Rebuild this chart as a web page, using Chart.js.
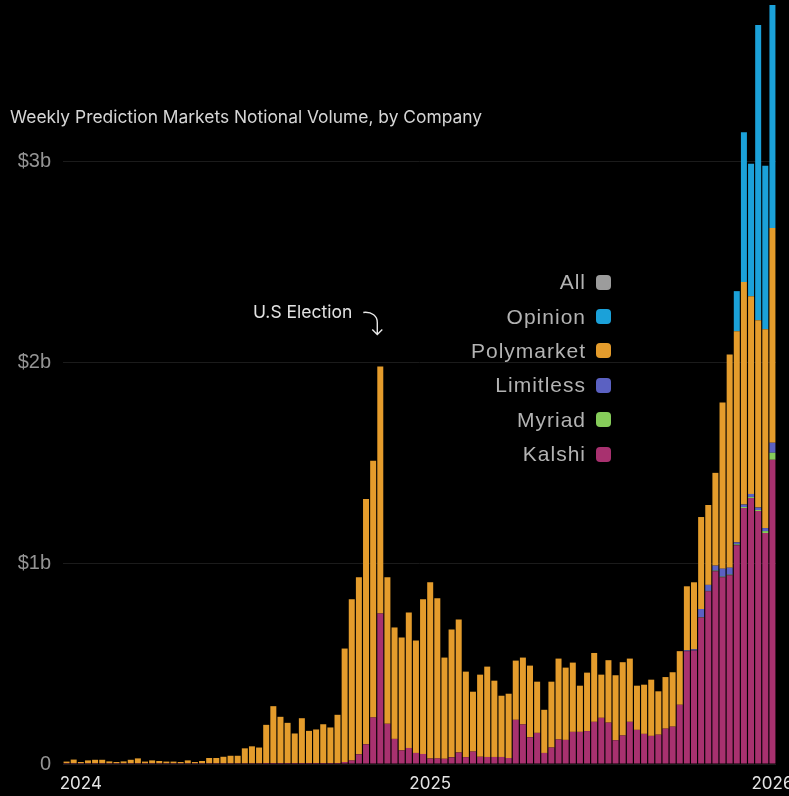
<!DOCTYPE html>
<html>
<head>
<meta charset="utf-8">
<script src="https://cdn.jsdelivr.net/npm/chart.js@4.4.0/dist/chart.umd.min.js"></script>
<style>
  html, body { margin: 0; padding: 0; background: #000; overflow: hidden; }
  #wrap { position: relative; width: 789px; height: 796px; }
  #title {
    position: absolute; left: 10px; top: 106px;
    font: 17.4px Inter, sans-serif; color: #d6d6d6; white-space: nowrap;
  }
  #legend { position: absolute; right: 178px; top: 265px; }
  .row { display: flex; justify-content: flex-end; align-items: center; height: 34.4px; }
  .row span { font: 21px "Liberation Sans", Arial, sans-serif; color: #b3b3b3; letter-spacing: 1px; }
  .row i { display: inline-block; width: 15px; height: 15px; border-radius: 4px; margin-left: 10px; }
</style>
</head>
<body>
<div id="wrap">
  <canvas id="chart" width="789" height="796"></canvas>
  <div id="title">Weekly Prediction Markets Notional Volume, by Company</div>
  <div id="legend"></div>
</div>
<script>
// weekly notional volume, $ billions
const firstWeek = "2024-01-08";
const weekCount = 100;

const yearLabels = ["2024", "2025", "2026"];
const yearAt = [2, 51, 99];

const yTicks = [0, 1, 2, 3];
const yTickLabels = ["0", "$1b", "$2b", "$3b"];

const kalshi = [
  0.004, 0.004, 0.004, 0.004, 0.004, 0.004, 0.004, 0.004, 0.004, 0.004,
  0.004, 0.004, 0.004, 0.004, 0.004, 0.004, 0.004, 0.004, 0.004, 0.004,
  0.004, 0.004, 0.004, 0.004, 0.004, 0.004, 0.004, 0.004, 0.005, 0.005,
  0.005, 0.005, 0.005, 0.005, 0.005, 0.005, 0.005, 0.005, 0.005, 0.010,
  0.018, 0.048, 0.098, 0.232, 0.750, 0.200, 0.125, 0.068, 0.080, 0.055,
  0.050, 0.027, 0.028, 0.026, 0.033, 0.057, 0.034, 0.062, 0.036, 0.035,
  0.035, 0.035, 0.030, 0.220, 0.197, 0.133, 0.155, 0.055, 0.082, 0.122,
  0.120, 0.160, 0.160, 0.164, 0.210, 0.230, 0.206, 0.118, 0.142, 0.210,
  0.170, 0.150, 0.140, 0.146, 0.176, 0.186, 0.295, 0.562, 0.565, 0.730,
  0.860, 0.960, 0.930, 0.940, 1.090, 1.275, 1.325, 1.260, 1.150, 1.515
];

const myriad = [
  0, 0, 0, 0, 0, 0, 0, 0, 0, 0,
  0, 0, 0, 0, 0, 0, 0, 0, 0, 0,
  0, 0, 0, 0, 0, 0, 0, 0, 0, 0,
  0, 0, 0, 0, 0, 0, 0, 0, 0, 0,
  0, 0, 0, 0, 0, 0, 0, 0, 0, 0,
  0, 0, 0, 0, 0, 0, 0, 0, 0, 0,
  0, 0, 0, 0, 0, 0, 0, 0, 0, 0,
  0, 0, 0, 0, 0, 0, 0, 0, 0, 0,
  0, 0, 0, 0, 0, 0, 0, 0, 0, 0.002,
  0.002, 0.003, 0.003, 0.003, 0.004, 0.005, 0.005, 0.005, 0.010, 0.035
];

const limitless = [
  0, 0, 0, 0, 0, 0, 0, 0, 0, 0,
  0, 0, 0, 0, 0, 0, 0, 0, 0, 0,
  0, 0, 0, 0, 0, 0, 0, 0, 0, 0,
  0, 0, 0, 0, 0, 0, 0, 0, 0, 0,
  0, 0, 0, 0, 0, 0, 0, 0, 0, 0,
  0, 0, 0, 0, 0, 0, 0, 0, 0, 0,
  0, 0, 0, 0, 0, 0, 0, 0, 0, 0,
  0, 0, 0, 0, 0, 0, 0, 0, 0, 0,
  0, 0, 0, 0, 0, 0, 0, 0.004, 0.006, 0.040,
  0.030, 0.025, 0.040, 0.035, 0.010, 0.012, 0.015, 0.012, 0.015, 0.050
];

const polymarket = [
  0.008, 0.018, 0.006, 0.014, 0.017, 0.017, 0.009, 0.006, 0.009, 0.017,
  0.024, 0.008, 0.014, 0.011, 0.008, 0.008, 0.006, 0.014, 0.006, 0.011,
  0.026, 0.026, 0.032, 0.037, 0.037, 0.074, 0.084, 0.078, 0.190, 0.283,
  0.230, 0.200, 0.147, 0.223, 0.160, 0.167, 0.193, 0.177, 0.240, 0.565,
  0.802, 0.882, 1.222, 1.278, 1.230, 0.730, 0.555, 0.562, 0.675, 0.560,
  0.770, 0.878, 0.797, 0.504, 0.637, 0.663, 0.426, 0.298, 0.409, 0.450,
  0.380, 0.305, 0.320, 0.295, 0.333, 0.357, 0.255, 0.215, 0.328, 0.403,
  0.360, 0.345, 0.230, 0.291, 0.343, 0.215, 0.311, 0.324, 0.365, 0.315,
  0.220, 0.245, 0.280, 0.216, 0.257, 0.271, 0.267, 0.319, 0.334, 0.458,
  0.398, 0.462, 0.827, 1.062, 1.051, 1.108, 0.985, 0.933, 0.990, 1.070
];

const opinion = [
  0, 0, 0, 0, 0, 0, 0, 0, 0, 0,
  0, 0, 0, 0, 0, 0, 0, 0, 0, 0,
  0, 0, 0, 0, 0, 0, 0, 0, 0, 0,
  0, 0, 0, 0, 0, 0, 0, 0, 0, 0,
  0, 0, 0, 0, 0, 0, 0, 0, 0, 0,
  0, 0, 0, 0, 0, 0, 0, 0, 0, 0,
  0, 0, 0, 0, 0, 0, 0, 0, 0, 0,
  0, 0, 0, 0, 0, 0, 0, 0, 0, 0,
  0, 0, 0, 0, 0, 0, 0, 0, 0, 0,
  0, 0, 0, 0, 0.200, 0.746, 0.660, 1.470, 0.815, 1.110
];

const legendNames = ["All", "Opinion", "Polymarket", "Limitless", "Myriad", "Kalshi"];
const legendColors = ["#9c9c9c", "#1ba1d9", "#e49c2c", "#5b61c2", "#86cc5a", "#a8316f"];

const electionWeek = 44;
const electionNote = "U.S Election";

// week labels
const weeks = [];
const d0 = new Date(firstWeek + "T00:00:00Z");
for (let i = 0; i < weekCount; i++) {
  const d = new Date(d0.getTime() + i * 7 * 86400000);
  weeks.push(d.toISOString().slice(0, 10));
}

function colorOf(name) {
  return legendColors[legendNames.indexOf(name)];
}

// legend on the right
const legendEl = document.getElementById("legend");
legendNames.forEach((n, k) => {
  const row = document.createElement("div");
  row.className = "row";
  row.innerHTML = '<span>' + n + '</span><i style="background:' + legendColors[k] + '"></i>';
  legendEl.appendChild(row);
});

const electionArrow = {
  id: "electionArrow",
  afterDatasetsDraw(chart) {
    const ctx = chart.ctx;
    const x = chart.scales.x.getPixelForValue(electionWeek);
    let total = 0;
    chart.data.datasets.forEach(ds => total += ds.data[electionWeek]);
    const y = chart.scales.y.getPixelForValue(total);
    ctx.save();
    ctx.fillStyle = "#e2e2e2";
    ctx.font = "17.5px Inter, sans-serif";
    ctx.textAlign = "right";
    ctx.textBaseline = "middle";
    ctx.fillText(electionNote, x - 28, y - 54);
    ctx.strokeStyle = "#e8e8e8";
    ctx.lineWidth = 1.4;
    ctx.beginPath();
    ctx.moveTo(x - 17, y - 54);
    ctx.bezierCurveTo(x - 8, y - 55, x - 3, y - 50, x - 3, y - 44);
    ctx.lineTo(x - 3, y - 32);
    ctx.moveTo(x - 8, y - 37);
    ctx.lineTo(x - 3, y - 32);
    ctx.lineTo(x + 2, y - 37);
    ctx.stroke();
    ctx.restore();
  }
};

const series = [
  ["Kalshi", kalshi],
  ["Myriad", myriad],
  ["Limitless", limitless],
  ["Polymarket", polymarket],
  ["Opinion", opinion]
];

new Chart(document.getElementById("chart"), {
  type: "bar",
  data: {
    labels: weeks,
    datasets: series.map(s => ({
      label: s[0],
      data: s[1],
      backgroundColor: colorOf(s[0]),
      borderWidth: 0,
      barPercentage: 0.84,
      categoryPercentage: 1
    }))
  },
  options: {
    responsive: false,
    animation: false,
    devicePixelRatio: 1,
    layout: { padding: { left: 11, right: 13, top: 1, bottom: 0 } },
    plugins: { legend: { display: false }, tooltip: { enabled: false } },
    scales: {
      x: {
        stacked: true,
        grid: { display: false },
        border: { display: false },
        afterFit: s => { s.height = 32; s.paddingLeft = 0; s.paddingRight = 0; },
        ticks: {
          autoSkip: false,
          maxRotation: 0,
          padding: 2,
          color: "#e4e4e4",
          font: { family: "Inter", size: 17 },
          callback: (v, i) => {
            const k = yearAt.indexOf(i);
            return k >= 0 ? yearLabels[k] : "";
          }
        }
      },
      y: {
        stacked: true,
        min: 0,
        max: 3.8,
        afterBuildTicks: s => { s.ticks = yTicks.map(v => ({ value: v })); },
        afterFit: s => { s.width = 52; s.paddingTop = 0; s.paddingBottom = 0; },
        border: { display: false },
        grid: { color: "#1b1b1b", drawTicks: false },
        ticks: {
          padding: 12,
          color: "#949494",
          font: { family: "Liberation Sans", size: 20 },
          callback: (v, i) => yTickLabels[i]
        }
      }
    }
  },
  plugins: [electionArrow]
});
</script>
</body>
</html>
